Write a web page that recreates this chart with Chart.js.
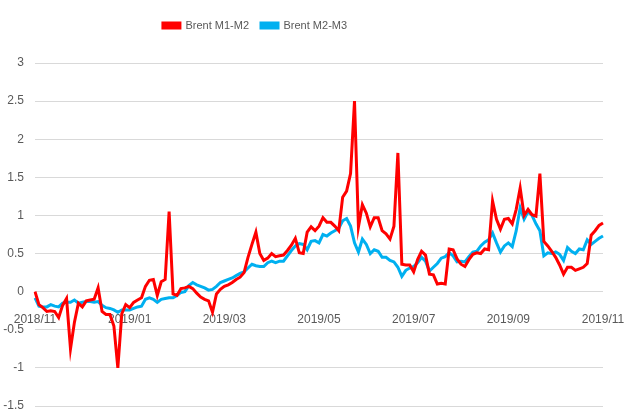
<!DOCTYPE html>
<html>
<head>
<meta charset="utf-8">
<script src="https://cdn.jsdelivr.net/npm/chart.js@4"></script>
<style>
html,body{margin:0;padding:0;background:#fff;}
#wrap{width:632px;height:416px;}
</style>
</head>
<body>
<div id="wrap"><canvas id="spreadChart"></canvas></div>
<script>

// tick labels on the x axis, one every 24 points
const monthLabels = ["2018/11","2019/01","2019/03","2019/05","2019/07","2019/09","2019/11"];
const pointsPerLabel = 24;

// Brent M1-M2 spread
const m1m2 = [
0.00,-0.17,-0.21,-0.26,-0.25,-0.26,-0.34,-0.18,-0.09,-0.75,
-0.40,-0.15,-0.20,-0.12,-0.11,-0.10,0.05,-0.26,-0.30,-0.30,
-0.45,-1.00,-0.29,-0.17,-0.21,-0.14,-0.11,-0.08,0.07,0.15,
0.16,-0.05,0.13,0.16,1.05,-0.03,-0.05,0.04,0.05,0.07,
0.04,-0.02,-0.07,-0.10,-0.12,-0.27,-0.03,0.03,0.07,0.09,
0.12,0.16,0.19,0.25,0.45,0.62,0.78,0.50,0.41,0.44,
0.50,0.46,0.47,0.48,0.54,0.61,0.70,0.51,0.50,0.78,
0.85,0.80,0.86,0.97,0.91,0.91,0.86,0.80,1.24,1.32,
1.55,2.50,0.85,1.14,1.03,0.85,0.97,0.97,0.80,0.76,
0.69,0.86,1.82,0.36,0.35,0.35,0.26,0.42,0.53,0.48,
0.23,0.22,0.10,0.11,0.10,0.56,0.55,0.43,0.36,0.33,
0.42,0.49,0.51,0.50,0.56,0.55,1.19,0.95,0.82,0.95,
0.96,0.89,1.08,1.36,1.00,1.08,1.01,0.99,1.55,0.66,
0.60,0.53,0.45,0.35,0.23,0.32,0.32,0.28,0.30,0.32,
0.37,0.74,0.80,0.87,0.90
];

// Brent M2-M3 spread
const m2m3 = [
-0.08,-0.19,-0.20,-0.20,-0.17,-0.19,-0.20,-0.15,-0.14,-0.14,
-0.11,-0.15,-0.14,-0.13,-0.13,-0.14,-0.13,-0.18,-0.21,-0.22,
-0.24,-0.27,-0.24,-0.24,-0.24,-0.22,-0.20,-0.19,-0.10,-0.08,
-0.10,-0.14,-0.10,-0.09,-0.08,-0.08,-0.05,-0.01,0.00,0.08,
0.12,0.09,0.07,0.05,0.02,0.03,0.07,0.12,0.14,0.16,
0.18,0.21,0.24,0.26,0.31,0.36,0.34,0.33,0.33,0.38,
0.40,0.38,0.40,0.40,0.47,0.54,0.60,0.63,0.62,0.55,
0.66,0.67,0.64,0.75,0.73,0.77,0.80,0.83,0.93,0.96,
0.86,0.64,0.52,0.69,0.62,0.50,0.55,0.53,0.45,0.45,
0.41,0.39,0.32,0.20,0.28,0.31,0.33,0.38,0.45,0.40,
0.27,0.32,0.37,0.44,0.46,0.51,0.47,0.39,0.40,0.39,
0.46,0.52,0.53,0.60,0.65,0.68,0.77,0.64,0.52,0.60,
0.64,0.59,0.80,1.10,0.95,1.05,1.00,0.89,0.80,0.47,
0.51,0.50,0.52,0.49,0.41,0.58,0.53,0.50,0.56,0.55,
0.68,0.62,0.66,0.70,0.73
];

const labels = m1m2.map((v, i) =>
i % pointsPerLabel === 0 ? monthLabels[i / pointsPerLabel] : ""
);

Chart.defaults.font.family = "'Liberation Sans',sans-serif";
Chart.defaults.font.size = 12;
Chart.defaults.color = "#595959";

// push the plot a bit further down below the legend,
// and pull the legend a little left of centre like the original
const legendGap = {
id:"legendGap",
beforeInit(chart){
const fit = chart.legend.fit;
chart.legend.fit = function(){
fit.bind(chart.legend)();
this.height += 22;
};
},
afterLayout(chart){
chart.legend.right -= 96;
}
};

new Chart(document.getElementById("spreadChart"), {

type:"line",

data:{
labels:labels,
datasets:[
{
label:"Brent M1-M2",
data:m1m2,
borderColor:"#FF0000",
backgroundColor:"#FF0000",
borderWidth:3,
pointRadius:0,
tension:0,
fill:false
},
{
label:"Brent M2-M3",
data:m2m3,
borderColor:"#00B0F0",
backgroundColor:"#00B0F0",
borderWidth:3,
pointRadius:0,
tension:0,
fill:false
}
]
},

plugins:[legendGap],

options:{
responsive:true,
maintainAspectRatio:false,
animation:false,
layout:{
padding:{left:3,right:29,top:8,bottom:10}
},
plugins:{
legend:{
position:"top",
labels:{
boxWidth:17,
boxHeight:5,
padding:12,
font:{size:11}
}
},
tooltip:{enabled:false}
},
scales:{
x:{
position:{y:0},
grid:{display:false,drawTicks:false},
border:{display:false},
afterFit:function(scale){
// labels sit inside the plot, so they need no side room
scale.paddingLeft = 0;
scale.paddingRight = 0;
},
ticks:{
autoSkip:false,
maxRotation:0,
padding:21,
callback:function(value, index){
return labels[index] === "" ? null : labels[index];
}
}
},
y:{
min:-1.5,
max:3,
grid:{color:"#D9D9D9",lineWidth:1,drawTicks:false},
border:{display:false},
afterFit:function(scale){
scale.paddingBottom = 0;
scale.width = 32;
},
ticks:{
stepSize:0.5,
padding:11,
callback:function(value){
return String(Number(value.toFixed(1)));
}
}
}
}
}

});

</script>
</body>
</html>
